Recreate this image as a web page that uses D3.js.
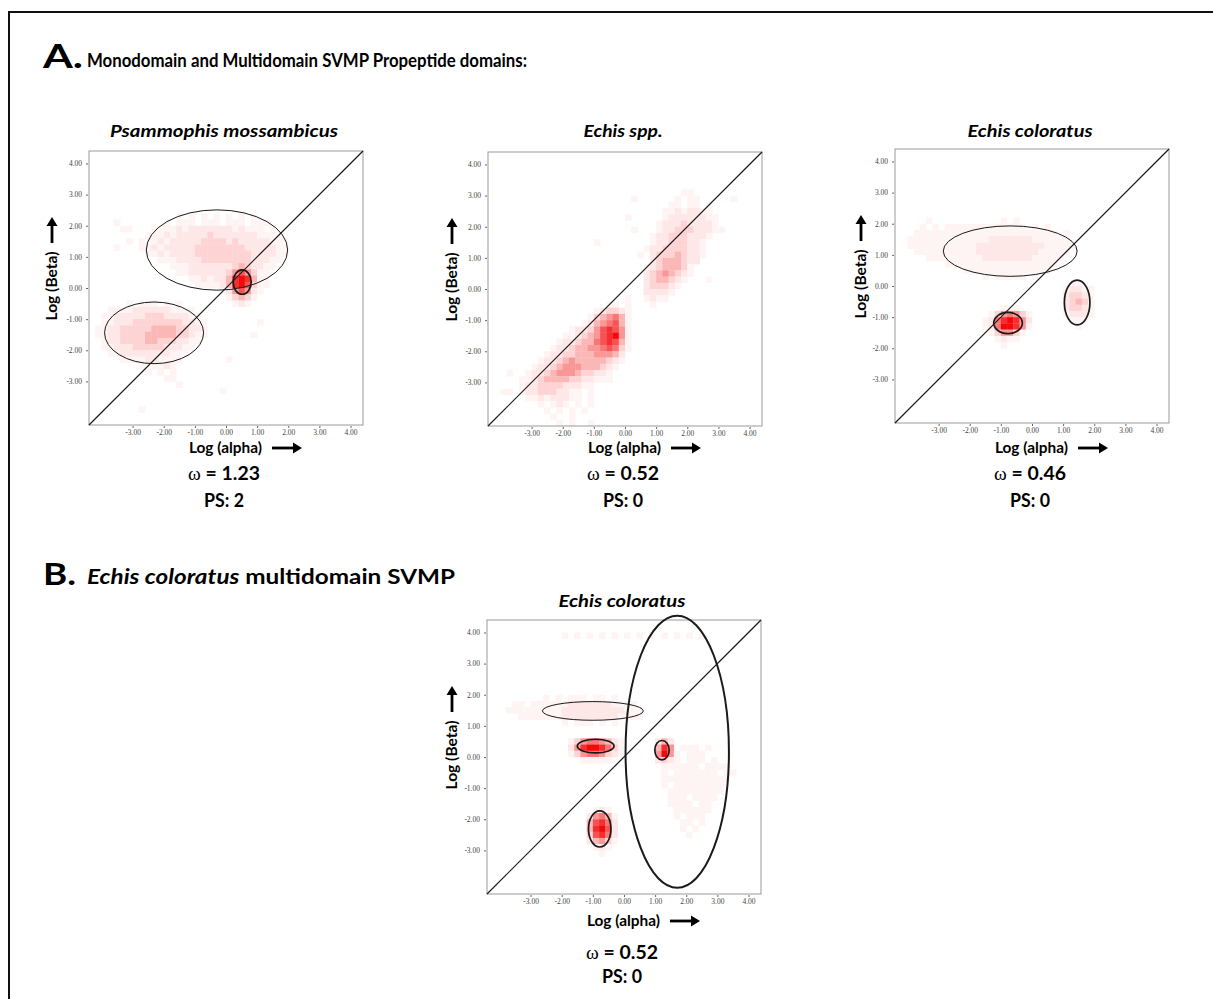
<!DOCTYPE html>
<html><head><meta charset="utf-8">
<script src="https://cdn.jsdelivr.net/npm/d3@7"></script>
<style>
body{margin:0;background:#fff;}
svg{display:block;}
</style></head><body>
<svg id="fig" width="1213" height="999"></svg>
<script>
// ================= DATA =================
const panelTitles = ["Psammophis mossambicus", "Echis spp.", "Echis coloratus", "Echis coloratus"];
const omegaValues = ["1.23", "0.52", "0.46", "0.52"];
const psValues = ["2", "0", "0", "0"];
const xTickValues = [-3, -2, -1, 0, 1, 2, 3, 4];
const yTickValues = [4, 3, 2, 1, 0, -1, -2, -3];
const axisDomain = [-4.4, 4.4];
const binWidth = 0.2;   // histogram bin size in log units

// 2D histogram cells: [bin row counted from the top (log Beta), first bin column from the left (log alpha), density levels 0-9]
const psamCells = [
  [10, 14, "1010101010101"],
  [11, 4, "1"], [11, 12, "10111011101110111"],
  [12, 5, "11"], [12, 10, "11112122222221211101"],
  [13, 9, "1112122222322222221111"],
  [14, 6, "1"], [14, 8, "111212222233332322222111"],
  [15, 4, "1"], [15, 8, "112122222333333332222211"],
  [16, 9, "11212222333333333222211"],
  [17, 11, "11122223333333322211"],
  [18, 13, "11122222223432211"],
  [19, 14, "112222223575311"],
  [20, 16, "1121224898411"],
  [21, 17, "111124897311"],
  [22, 21, "1257521"],
  [23, 22, "13431"],
  [24, 6, "101110101"], [24, 23, "121"],
  [25, 3, "11112222221111"],
  [26, 2, "1122222333222211"],
  [27, 2, "11222333333332211"], [27, 27, "1"],
  [28, 1, "112233333444433221"],
  [29, 1, "112233334444433211"], [29, 26, "1"],
  [30, 2, "1223333443332211"],
  [31, 2, "112223333322211"],
  [32, 3, "1122222222111"],
  [33, 5, "1111221111"], [33, 22, "1"],
  [34, 8, "101121"],
  [35, 9, "10101"],
  [36, 12, "11"],
  [37, 14, "1"],
  [38, 21, "1"],
  [41, 8, "1"]
];
const echisCells = [
  [6, 31, "11"],
  [7, 23, "1"], [7, 30, "1011"], [7, 39, "1"],
  [8, 29, "1101101"],
  [9, 28, "11212211"],
  [10, 22, "1"], [10, 28, "122222211"],
  [11, 27, "1222322221"],
  [12, 23, "1"], [12, 27, "12233322211"],
  [13, 26, "1223332221"],
  [14, 17, "1"], [14, 26, "122333221"],
  [15, 25, "1223333221"],
  [16, 24, "1"], [16, 26, "233343221"],
  [17, 26, "23444322"],
  [18, 25, "12344431"],
  [19, 25, "23454321"],
  [20, 25, "2344321"], [20, 35, "1"],
  [21, 25, "233321"],
  [22, 25, "22221"],
  [23, 22, "1"], [23, 25, "1211"],
  [24, 19, "1101"], [24, 26, "1"],
  [25, 17, "123321"],
  [26, 16, "1345641"],
  [27, 15, "12456741"],
  [28, 13, "1223578751"],
  [29, 12, "11234578951"],
  [30, 11, "122344678741"],
  [31, 10, "1223445567631"],
  [32, 9, "1223344455542"],
  [33, 8, "12234544444321"],
  [34, 7, "12234555444321"],
  [35, 3, "1"], [35, 6, "12234555433221"],
  [36, 5, "112344443322111"],
  [37, 5, "1223333222110"],
  [38, 2, "1101223332211"], [38, 16, "1"],
  [39, 6, "11212221101"],
  [40, 8, "101210101"],
  [41, 9, "1010101"],
  [42, 10, "1001"],
  [43, 11, "101001"]
];
const coloratusCells = [
  [11, 5, "1"], [11, 17, "101"],
  [12, 4, "101011111111111110101"],
  [13, 3, "1111111111111111111111101"],
  [14, 2, "11111111111112222222111111"],
  [15, 2, "111111111112222222222211111"],
  [16, 3, "1111111111222222222211111"],
  [17, 5, "1111111112222222211111"],
  [18, 8, "111111111111111111"],
  [19, 11, "11111111111111"],
  [20, 14, "101111101"],
  [21, 28, "11"],
  [22, 27, "12211"],
  [23, 27, "23321"],
  [24, 27, "23431"],
  [25, 17, "111"], [25, 27, "23321"],
  [26, 15, "1356531"], [26, 27, "12221"],
  [27, 14, "12689852"], [27, 28, "111"],
  [28, 14, "12699851"], [28, 29, "1"],
  [29, 15, "135531"],
  [30, 16, "1211"],
  [31, 17, "1"]
];
const multidomainCells = [
  [2, 12, "10101010101010101010101"],
  [12, 9, "101011101101"],
  [13, 4, "11011111122222221111"],
  [14, 3, "1111111112222222222111"],
  [15, 5, "11111112222222221111"],
  [16, 12, "101110101"],
  [19, 13, "135665421"], [19, 27, "242"],
  [20, 13, "258998631"], [20, 27, "485"], [20, 31, "11101"],
  [21, 13, "135665321"], [21, 27, "595"], [21, 30, "101110"],
  [22, 15, "11111"], [22, 27, "232"], [22, 30, "1011101"],
  [23, 28, "11111101111"],
  [24, 28, "101111111011"],
  [25, 28, "11111111111"],
  [26, 28, "1011111111"],
  [27, 29, "111111111"],
  [28, 29, "11101111"],
  [29, 29, "1111011"],
  [30, 17, "121"], [30, 30, "111111"],
  [31, 16, "25641"], [31, 30, "10111"],
  [32, 16, "47862"], [32, 31, "1101"],
  [33, 16, "48972"], [33, 31, "101"],
  [34, 16, "37862"], [34, 32, "1"],
  [35, 16, "24531"],
  [36, 17, "121"],
  [37, 18, "1"]
];

// ellipses: [centre log alpha, centre log Beta, radius alpha, radius Beta]
const psamEllipses = [[-0.29, 1.22, 2.27, 1.29], [0.52, 0.19, 0.29, 0.39], [-2.31, -1.44, 1.59, 0.99]];
const echisEllipses = [];
const coloratusEllipses = [[-0.70, 1.12, 2.15, 0.81], [-0.77, -1.19, 0.46, 0.34], [1.45, -0.53, 0.41, 0.72]];
const multidomainEllipses = [[1.71, 0.17, 1.66, 4.37], [-1.0, 1.48, 1.62, 0.30], [-0.91, 0.35, 0.59, 0.22], [1.22, 0.22, 0.23, 0.31], [-0.78, -2.31, 0.36, 0.58]];

// ================= LAYOUT / STYLE =================
const SIZE = 274;
const levelShade = [0, 0.045, 0.1, 0.18, 0.3, 0.43, 0.56, 0.7, 0.85, 1];
const shade = d3.interpolateRgb("#ffffff", "#f20a0a");
const FONT = "Lato, 'Open Sans', sans-serif";

const panels = [
  {cells: psamCells, ellipses: psamEllipses, left: 89, top: 151, titleY: 137, titleW: 228, betaDx: -37, alphaY: 453, omegaY: 480, psY: 507, ew: [1, 1.7, 1]},
  {cells: echisCells, ellipses: echisEllipses, left: 488, top: 152, titleY: 137, titleW: 79, betaDx: -36, alphaY: 453, omegaY: 480, psY: 507, ew: []},
  {cells: coloratusCells, ellipses: coloratusEllipses, left: 895, top: 149, titleY: 137, titleW: 125, betaDx: -34, alphaY: 453, omegaY: 480, psY: 507, ew: [1, 1.7, 1.7]},
  {cells: multidomainCells, ellipses: multidomainEllipses, left: 487, top: 620, titleY: 607, titleW: 127, betaDx: -35, alphaY: 926, omegaY: 959, psY: 983, ew: [2, 1, 1.7, 1.7, 1.7]}
];

const svg = d3.select("#fig");

function sized(sel, size, w) {
  return sel.attr("font-size", size).attr("textLength", w).attr("lengthAdjust", "spacingAndGlyphs");
}
function arrow(g, x1, y1, x2, y2) {
  const ang = Math.atan2(y2 - y1, x2 - x1), L = 9, W = 5.5;
  const bx = x2 - L * Math.cos(ang), by = y2 - L * Math.sin(ang);
  g.append("line").attr("x1", x1).attr("y1", y1).attr("x2", bx).attr("y2", by)
    .attr("stroke", "#000").attr("stroke-width", 2.8);
  const px = -Math.sin(ang) * W, py = Math.cos(ang) * W;
  g.append("path").attr("d", `M${x2},${y2}L${bx + px},${by + py}L${bx - px},${by - py}Z`).attr("fill", "#000");
}

// frame
svg.append("rect").attr("x", 9).attr("y", 12).attr("width", 1400).attr("height", 1200)
  .attr("fill", "none").attr("stroke", "#111").attr("stroke-width", 2);

// headers
sized(svg.append("text").attr("x", 43).attr("y", 68).attr("font-family", FONT).attr("font-weight", 700)
  .attr("fill", "#000").text("A."), 32, 40);
sized(svg.append("text").attr("x", 87).attr("y", 67).attr("font-family", FONT).attr("font-weight", 700)
  .attr("fill", "#000").text("Monodomain and Multidomain SVMP Propeptide domains:"), 19, 440);
sized(svg.append("text").attr("x", 43).attr("y", 585).attr("font-family", FONT).attr("font-weight", 700)
  .attr("fill", "#000").text("B."), 31, 33);
const hB2 = svg.append("text").attr("x", 87).attr("y", 584).attr("font-family", FONT).attr("font-weight", 700).attr("fill", "#000");
hB2.append("tspan").attr("font-style", "italic").text("Echis coloratus");
hB2.append("tspan").text(" multidomain SVMP");
sized(hB2, 20.5, 368);

panels.forEach((p, k) => {
  const x = d3.scaleLinear().domain(axisDomain).range([p.left, p.left + SIZE]);
  const y = d3.scaleLinear().domain(axisDomain).range([p.top + SIZE, p.top]);
  const g = svg.append("g");
  const cx = p.left + SIZE / 2;

  // cells
  const cells = [];
  p.cells.forEach(([row, col, lv]) => {
    for (let i = 0; i < lv.length; i++) {
      const v = +lv[i];
      if (!v) continue;
      const x0 = axisDomain[0] + (col + i) * binWidth;
      const y1 = axisDomain[1] - row * binWidth;
      cells.push({x0, y1, v});
    }
  });
  g.append("g").selectAll("rect").data(cells).join("rect")
    .attr("x", d => x(d.x0)).attr("y", d => y(d.y1))
    .attr("width", d => x(d.x0 + binWidth) - x(d.x0) + 0.3)
    .attr("height", d => y(d.y1 - binWidth) - y(d.y1) + 0.3)
    .attr("fill", d => shade(levelShade[d.v]));

  // box
  g.append("rect").attr("x", p.left).attr("y", p.top).attr("width", SIZE).attr("height", SIZE)
    .attr("fill", "none").attr("stroke", "#9a9a9a").attr("stroke-width", 1);

  // axes
  const fmt = d => d.toFixed(2);
  const ya = g.append("g").attr("transform", `translate(${p.left - 1},0)`)
    .call(d3.axisLeft(y).tickValues(yTickValues).tickFormat(fmt).tickSize(2).tickPadding(4));
  const xa = g.append("g").attr("transform", `translate(0,${p.top + SIZE + 1})`)
    .call(d3.axisBottom(x).tickValues(xTickValues).tickFormat(fmt).tickSize(2).tickPadding(2));
  [ya, xa].forEach(a => {
    a.select(".domain").remove();
    a.selectAll("line").attr("stroke", "#666");
    a.selectAll("text").attr("font-family", "'Liberation Serif', 'DejaVu Serif', serif").attr("font-size", 7.5).attr("fill", "#444");
  });

  // diagonal
  g.append("line").attr("x1", x(axisDomain[0])).attr("y1", y(axisDomain[0]))
    .attr("x2", x(axisDomain[1])).attr("y2", y(axisDomain[1]))
    .attr("stroke", "#1a1a1a").attr("stroke-width", 1.2);

  // ellipses
  g.append("g").selectAll("ellipse").data(p.ellipses).join("ellipse")
    .attr("cx", d => x(d[0])).attr("cy", d => y(d[1]))
    .attr("rx", d => x(d[0] + d[2]) - x(d[0])).attr("ry", d => y(d[1]) - y(d[1] + d[3]))
    .attr("fill", "none").attr("stroke", "#1a1a1a").attr("stroke-width", (d, i) => p.ew[i]);

  // title
  sized(g.append("text").attr("x", cx - 2).attr("y", p.titleY).attr("text-anchor", "middle")
    .attr("font-family", FONT).attr("font-weight", 700).attr("font-style", "italic")
    .text(panelTitles[k]), 17, p.titleW);

  // y label
  const bx = p.left + p.betaDx;
  const by = p.top + SIZE / 2 - 2;
  sized(g.append("text").attr("transform", `translate(${bx + 5},${by}) rotate(-90)`)
    .attr("text-anchor", "middle").attr("font-family", FONT).attr("font-weight", 700)
    .text("Log (Beta)"), 14.5, 69);
  arrow(g, bx, by - 43, bx, by - 69);

  // x label
  sized(g.append("text").attr("x", cx - 37).attr("y", p.alphaY)
    .attr("font-family", FONT).attr("font-weight", 700).text("Log (alpha)"), 14.5, 73);
  const xe = cx - 37 + 73;
  arrow(g, xe + 10, p.alphaY - 5, xe + 40, p.alphaY - 5);

  // omega and PS
  const om = g.append("text").attr("x", cx - 2).attr("y", p.omegaY).attr("text-anchor", "middle")
    .attr("font-family", FONT).attr("font-weight", 700);
  om.append("tspan").attr("font-family", "'Liberation Serif', serif").attr("font-weight", 400).text("ω");
  om.append("tspan").text(" = " + omegaValues[k]);
  sized(om, 18, 72);
  sized(g.append("text").attr("x", cx - 2).attr("y", p.psY).attr("text-anchor", "middle")
    .attr("font-family", FONT).attr("font-weight", 700).text("PS: " + psValues[k]), 18, 40);
});
</script>
</body></html>
